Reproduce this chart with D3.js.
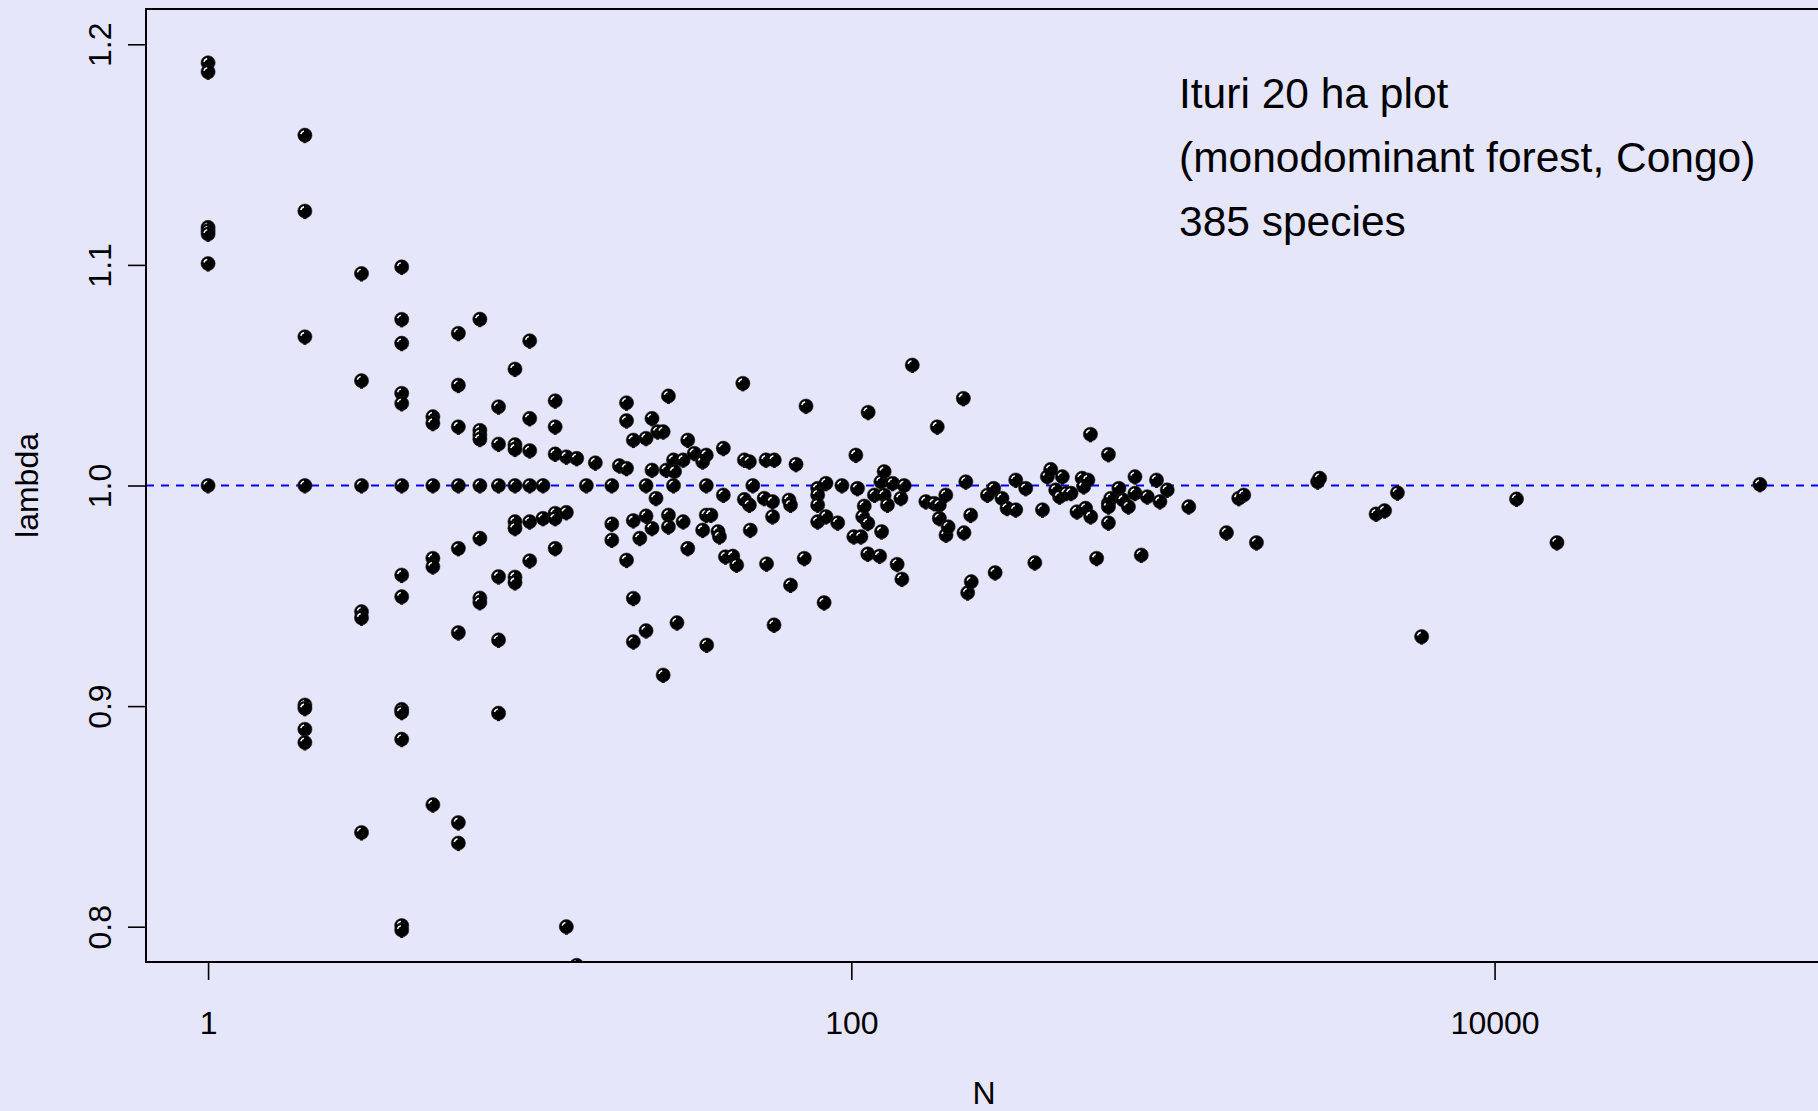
<!DOCTYPE html>
<html>
<head>
<meta charset="utf-8">
<script src="https://cdn.jsdelivr.net/npm/d3@7"></script>
<style>
  html, body { margin: 0; padding: 0; background: #E6E6FA; }
  svg text { font-family: "Liberation Sans", Arial, Helvetica, sans-serif; fill: #000; }
</style>
</head>
<body>
<div id="chart"></div>
<script>
// [N, lambda] pairs, split by abundance class
const rareSpecies = [
  [1, 1.1916], [1, 1.1875], [1, 1.117], [1, 1.1155], [1, 1.114], [1, 1.1006], [1, 1.0],
  [2, 1.1588], [2, 1.1244], [2, 1.0674], [2, 1.0], [2, 0.9005], [2, 0.899], [2, 0.8895], [2, 0.8835],
  [3, 1.0961], [3, 1.0475], [3, 1.0], [3, 0.9428], [3, 0.940], [3, 0.8427],
  [4, 1.0991], [4, 1.0753], [4, 1.0645], [4, 1.0418], [4, 1.0372], [4, 1.0], [4, 0.9594], [4, 0.9496],
  [4, 0.8985], [4, 0.8972], [4, 0.885], [4, 0.8005], [4, 0.7985],
  [5, 1.0312], [5, 1.0282], [5, 1.0], [5, 0.967], [5, 0.9632], [5, 0.8553],
  [6, 1.069], [6, 1.0455], [6, 1.0266], [6, 1.0], [6, 0.9715], [6, 0.9333], [6, 0.8472], [6, 0.8379],
  [7, 1.0754], [7, 1.025], [7, 1.023], [7, 1.021], [7, 1.0], [7, 0.9761], [7, 0.949], [7, 0.947],
  [8, 1.0357], [8, 1.0188], [8, 1.0], [8, 0.9587], [8, 0.93], [8, 0.8968],
  [9, 1.0528], [9, 1.0185], [9, 1.0165], [9, 1.0], [9, 0.9836], [9, 0.9806], [9, 0.9585], [9, 0.956]
];

const uncommonSpecies = [
  [10, 1.0656], [10, 1.0304], [10, 1.0158], [10, 1.0], [10, 0.9836], [10, 0.9659],
  [11, 1.0], [11, 0.9851],
  [12, 1.0384], [12, 1.0266], [12, 1.0143], [12, 0.9874], [12, 0.9851], [12, 0.9715],
  [13, 1.013], [13, 0.9878], [13, 0.80],
  [14, 1.0123], [14, 0.7825],
  [15, 1.0], [16, 1.0103],
  [18, 1.0], [18, 0.9826], [18, 0.9753], [19, 1.009],
  [20, 1.0375], [20, 1.0294], [20, 1.0078], [20, 0.9662],
  [21, 1.0206], [21, 0.9841], [21, 0.9489], [21, 0.9292], [22, 0.9761],
  [23, 1.0214], [23, 1.0], [23, 0.9862], [23, 0.9342],
  [24, 1.0304], [24, 1.007], [24, 0.9806],
  [25, 1.0244], [24.7, 0.9942], [26, 1.0244], [26, 0.9141],
  [27, 1.0406], [26.6, 1.007], [27, 0.9866], [27, 0.9813],
  [28, 1.0116], [28.2, 1.0063], [28, 1.0], [28.7, 0.9378],
  [30, 1.0116], [30, 0.9836], [31, 1.0206], [31, 0.9715],
  [32.5, 1.0146], [34.5, 1.0108], [34.5, 0.9798],
  [35.4, 1.0138], [35.4, 1.0], [35.4, 0.9866], [35.5, 0.9277], [36.6, 0.9866],
  [38.5, 0.9791], [38.9, 0.9768], [40, 1.0169], [40, 0.9957], [40.6, 0.9677],
  [42.8, 0.968], [44, 0.964], [46, 1.0463], [46.5, 1.0116], [46.5, 0.9937],
  [48.2, 1.0108], [48.2, 0.9912], [48.5, 0.9798], [49.4, 1.0]
];

const commonSpecies = [
  [53.6, 0.9942], [54.3, 1.0116], [54.5, 0.9645], [56.9, 0.9927], [56.9, 0.9859],
  [57.6, 1.0116], [57.5, 0.9368], [64, 0.9934], [64.7, 0.9912], [64.7, 0.9549],
  [67.3, 1.0096], [71.4, 0.967], [72.3, 1.036],
  [78.6, 0.9987], [78.6, 0.9957], [78.6, 0.9912], [78.6, 0.9836],
  [82.3, 0.9469], [83.4, 1.001], [83.4, 0.9859], [90.7, 0.9831], [93.5, 1.0],
  [101.8, 0.9768], [103.3, 1.0138], [104.5, 0.9987], [107.1, 0.9768],
  [108.5, 0.9859], [109.7, 0.9907], [112.5, 0.9829], [112.5, 0.969], [112.8, 1.0332],
  [118, 0.9957], [122.5, 0.968], [123.6, 1.0017], [124.2, 0.9791],
  [126.5, 1.0063], [126.5, 0.9957], [129.5, 0.9912], [134.4, 1.001],
  [138.8, 0.9643], [142.6, 0.9942], [143.6, 0.9576], [146, 1.0], [154.7, 1.0546],
  [170.5, 0.9927], [181, 0.9919], [185, 1.0266], [187.8, 0.9912], [187.8, 0.9851],
  [196.7, 0.9957], [197, 0.9776], [200, 0.9813],
  [223, 1.0395], [224, 0.9786], [227, 1.0017], [230, 0.9514], [235, 0.9866], [236, 0.9564],
  [265, 0.9957], [277, 0.9987], [280, 0.9605], [294, 0.9942], [305, 0.9897],
  [324.5, 1.0025], [324.5, 0.989], [348.5, 0.9987], [372, 0.965], [393, 0.989]
];

const dominantSpecies = [
  [407, 1.004], [416.8, 1.0073], [432, 0.998], [444, 0.9949], [453, 1.004],
  [466, 0.9965], [482, 0.9965], [503, 0.9881], [522, 1.0033], [528, 0.9995],
  [535, 0.9897], [544, 1.0025], [554, 1.0232], [555, 0.9859], [579, 0.967],
  [630, 1.0141], [630, 0.9919], [630, 0.9904], [630, 0.9831], [641, 0.9942],
  [679, 0.9987], [700, 0.9934], [727, 0.9904], [762, 1.004], [762, 0.9965],
  [797, 0.9685], [832, 0.9949], [889, 1.0025], [911, 0.9927], [960, 0.998],
  [1120, 0.9904], [1467, 0.9786], [1602, 0.9942], [1660, 0.9957], [1818, 0.9741],
  [2818, 1.0017], [2858, 1.0033], [4282, 0.9871], [4550, 0.9886], [4988, 0.9967],
  [5933, 0.9315], [11700, 0.9939], [15630, 0.9741], [66840, 1.0005]
];

const xTicks = [1, 100, 10000];
const yTicks = [0.8, 0.9, 1.0, 1.1, 1.2];
const yLimits = [0.8, 1.2];
const refLambda = 1.0;
const noteLines = ["Ituri 20 ha plot", "(monodominant forest, Congo)", "385 species"];

const points = rareSpecies.concat(uncommonSpecies, commonSpecies, dominantSpecies);

const width = 1818;
const height = 1111;
// plot region (R style box, right edge falls just off the canvas)
const plot = { left: 146, right: 1822, top: 9, bottom: 962 };

const svg = d3.select("#chart").append("svg")
    .attr("width", width)
    .attr("height", height);

svg.append("rect")
    .attr("width", width)
    .attr("height", height)
    .attr("fill", "#E6E6FA");

// R pads the axis range by 4% each side
const logExt = d3.extent(points, d => Math.log10(d[0]));
const logPad = (logExt[1] - logExt[0]) * 0.04;
const xScale = d3.scaleLog()
    .domain([Math.pow(10, logExt[0] - logPad), Math.pow(10, logExt[1] + logPad)])
    .range([plot.left, plot.right]);

const yPad = (yLimits[1] - yLimits[0]) * 0.04;
const yScale = d3.scaleLinear()
    .domain([yLimits[0] - yPad, yLimits[1] + yPad])
    .range([plot.bottom, plot.top]);

svg.append("defs").append("clipPath")
    .attr("id", "plot-clip")
    .append("rect")
    .attr("x", plot.left)
    .attr("y", plot.top)
    .attr("width", plot.right - plot.left)
    .attr("height", plot.bottom - plot.top);

// axes
const xAxis = d3.axisBottom(xScale)
    .tickValues(xTicks)
    .tickFormat(d3.format("d"))
    .tickSizeInner(18)
    .tickSizeOuter(0);

const xAxisGroup = svg.append("g")
    .attr("transform", `translate(0, ${plot.bottom})`)
    .call(xAxis);
xAxisGroup.select(".domain").remove();
xAxisGroup.selectAll("line").attr("stroke", "#000").attr("stroke-width", 1.6);
xAxisGroup.selectAll("text")
    .attr("font-size", 32)
    .attr("font-family", "Liberation Sans, Arial, sans-serif")
    .attr("dy", 0)
    .attr("y", 72);

const yAxis = d3.axisLeft(yScale)
    .tickValues(yTicks)
    .tickFormat(d3.format(".1f"))
    .tickSizeInner(18)
    .tickSizeOuter(0);

const yAxisGroup = svg.append("g")
    .attr("transform", `translate(${plot.left}, 0)`)
    .call(yAxis);
yAxisGroup.select(".domain").remove();
yAxisGroup.selectAll("line").attr("stroke", "#000").attr("stroke-width", 1.6);
yAxisGroup.selectAll("text")
    .attr("font-size", 32)
    .attr("font-family", "Liberation Sans, Arial, sans-serif")
    .attr("x", null)
    .attr("dy", 0)
    .attr("text-anchor", "middle")
    .attr("transform", "translate(-35, 0) rotate(-90)");

// axis titles
svg.append("text")
    .attr("x", (plot.left + plot.right) / 2)
    .attr("y", 1104)
    .attr("text-anchor", "middle")
    .attr("font-size", 32)
    .text("N");

svg.append("text")
    .attr("transform", `translate(38, ${(plot.top + plot.bottom) / 2}) rotate(-90)`)
    .attr("text-anchor", "middle")
    .attr("font-size", 32)
    .text("lambda");

// reference line at lambda = 1
svg.append("line")
    .attr("clip-path", "url(#plot-clip)")
    .attr("x1", plot.left)
    .attr("x2", plot.right)
    .attr("y1", yScale(refLambda))
    .attr("y2", yScale(refLambda))
    .attr("stroke", "#0000FF")
    .attr("stroke-width", 2)
    .attr("stroke-dasharray", "8,7");

// the points: black balls with a little white highlight
const dots = svg.append("g")
    .attr("clip-path", "url(#plot-clip)")
    .selectAll("g")
    .data(points)
    .enter().append("g")
    .attr("transform", d => `translate(${xScale(d[0])}, ${yScale(d[1])})`);

dots.append("rect")
    .attr("x", -1.5)
    .attr("y", 5)
    .attr("width", 3)
    .attr("height", 3)
    .attr("fill", "#000");

dots.append("circle")
    .attr("r", 7.1)
    .attr("fill", "#000")
    .attr("stroke", "#222")
    .attr("stroke-width", 0.6);

const hl = 4.3;
const a0 = 195 * Math.PI / 180, a1 = 258 * Math.PI / 180;
dots.append("path")
    .attr("d", `M${hl * Math.cos(a0)},${hl * Math.sin(a0)} A${hl},${hl} 0 0 1 ${hl * Math.cos(a1)},${hl * Math.sin(a1)}`)
    .attr("fill", "none")
    .attr("stroke", "#fff")
    .attr("stroke-width", 1.6);

// box around the plot region
svg.append("rect")
    .attr("x", plot.left)
    .attr("y", plot.top)
    .attr("width", plot.right - plot.left)
    .attr("height", plot.bottom - plot.top)
    .attr("fill", "none")
    .attr("stroke", "#000")
    .attr("stroke-width", 2);

// annotation in the top right
svg.append("g")
    .selectAll("text")
    .data(noteLines)
    .enter().append("text")
    .attr("x", 1179)
    .attr("y", (d, i) => 108 + i * 64)
    .attr("font-size", 42.5)
    .text(d => d);
</script>
</body>
</html>
